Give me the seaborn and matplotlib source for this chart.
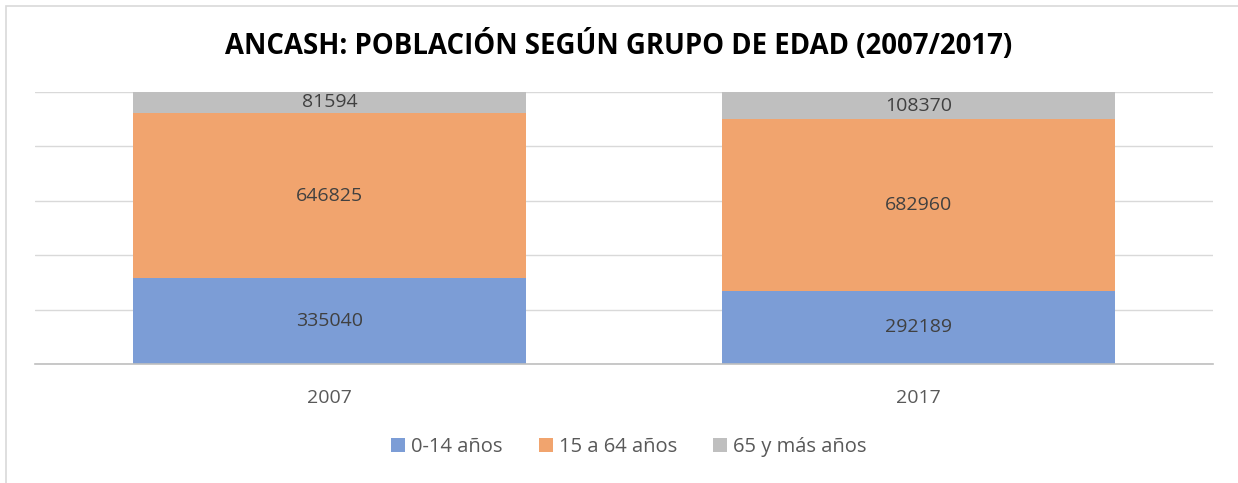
import pandas as pd
import matplotlib.pyplot as plt
import seaborn as sns
from matplotlib.patches import Patch, Rectangle

# Datos del gráfico
years = ['2007', '2017']
groups = ['0-14 años', '15 a 64 años', '65 y más años']
pob_0_14 = [335040, 292189]
pob_15_64 = [646825, 682960]
pob_65 = [81594, 108370]
colors = ['#7C9DD6', '#F1A46E', '#BFBFBF']


def main():
    sns.set_theme(style="white")
    plt.rcParams['font.family'] = ['Open Sans', 'DejaVu Sans']

    df = pd.DataFrame({'anio': years, groups[0]: pob_0_14,
                       groups[1]: pob_15_64, groups[2]: pob_65})
    total = df[groups].sum(axis=1)
    pct = df[groups].div(total, axis=0) * 100
    cum = pct.cumsum(axis=1)
    cum['anio'] = df['anio']

    fig = plt.figure(figsize=(12.38, 4.83), dpi=100)
    ax = fig.add_axes([35 / 1238, 1 - 364 / 483, 1178 / 1238, 272 / 483])

    # barras apiladas al 100%: se dibuja de arriba hacia abajo
    for g, c in zip(reversed(groups), reversed(colors)):
        sns.barplot(x='anio', y=g, data=cum, color=c, width=0.667,
                    saturation=1, ax=ax, edgecolor='none')

    # etiquetas con los valores absolutos
    for i in range(len(years)):
        base = 0
        for g in groups:
            h = pct.loc[i, g]
            ax.text(i, base + h / 2, f"{df.loc[i, g]}", ha='center', va='center',
                    fontsize=14, color='#404040')
            base += h

    ax.set_ylim(0, 100)
    ax.set_xlim(-0.5, 1.5)
    ax.set_yticks([0, 20, 40, 60, 80, 100])
    ax.yaxis.grid(True, color='#D9D9D9', linewidth=1)
    ax.set_axisbelow(True)
    ax.tick_params(axis='y', left=False, labelleft=False)
    ax.tick_params(axis='x', bottom=False, labelsize=14, labelcolor='#595959', pad=12)
    ax.set_xlabel('')
    ax.set_ylabel('')
    for s in ['top', 'right', 'left']:
        ax.spines[s].set_visible(False)
    ax.spines['bottom'].set_color('#BFBFBF')
    ax.spines['bottom'].set_linewidth(1.2)

    fig.text(0.5, 1 - 45 / 483, 'ANCASH: POBLACIÓN SEGÚN GRUPO DE EDAD (2007/2017)',
             ha='center', va='center', fontsize=19.8, fontweight='bold', color='black')

    handles = [Patch(facecolor=c, edgecolor='none') for c in colors]
    fig.legend(handles, groups, loc='center', bbox_to_anchor=(0.508, 1 - 447 / 483),
               ncol=3, frameon=False, fontsize=14.5, labelcolor='#595959',
               handlelength=0.7, handleheight=0.7, handletextpad=0.3, columnspacing=1.8)

    # borde del gráfico
    fig.patches.append(Rectangle((6 / 1238, -0.05), 1.1, 1 - 6 / 483 + 0.05,
                                 transform=fig.transFigure, fill=False,
                                 edgecolor='#D9D9D9', linewidth=1.2))

    fig.savefig('out.png', dpi=100)
    plt.close(fig)


if __name__ == '__main__':
    main()
